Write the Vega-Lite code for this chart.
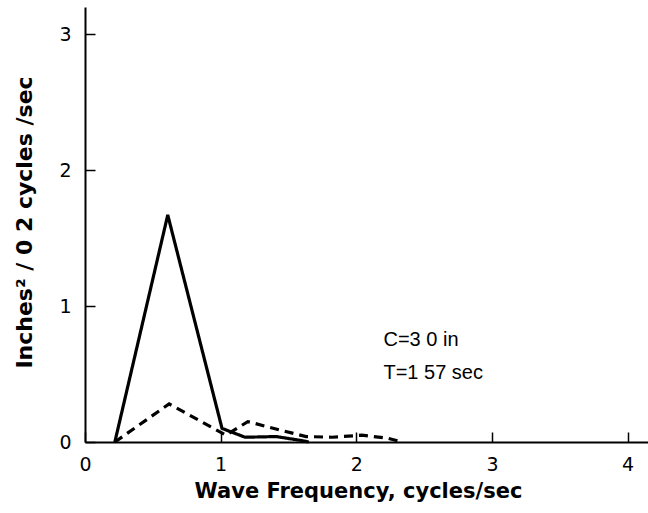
{
  "$schema": "https://vega.github.io/schema/vega-lite/v6.json",
  "width": 563,
  "height": 435,
  "autosize": "none",
  "padding": {"left": 85, "top": 7, "right": 0, "bottom": 71},
  "background": "white",
  "config": {"view": {"stroke": null}, "font": "Liberation Sans"},
  "datasets": {
    "curves": [
      {"f": 0.22, "s": 0.0, "series": "solid"},
      {"f": 0.61, "s": 1.67, "series": "solid"},
      {"f": 1.01, "s": 0.10, "series": "solid"},
      {"f": 1.18, "s": 0.035, "series": "solid"},
      {"f": 1.41, "s": 0.04, "series": "solid"},
      {"f": 1.6, "s": 0.01, "series": "solid"},
      {"f": 1.65, "s": 0.0, "series": "solid"},
      {"f": 0.22, "s": 0.0, "series": "dashed"},
      {"f": 0.62, "s": 0.28, "series": "dashed"},
      {"f": 1.04, "s": 0.05, "series": "dashed"},
      {"f": 1.2, "s": 0.15, "series": "dashed"},
      {"f": 1.43, "s": 0.09, "series": "dashed"},
      {"f": 1.63, "s": 0.04, "series": "dashed"},
      {"f": 1.82, "s": 0.035, "series": "dashed"},
      {"f": 2.04, "s": 0.05, "series": "dashed"},
      {"f": 2.22, "s": 0.03, "series": "dashed"},
      {"f": 2.34, "s": 0.0, "series": "dashed"}
    ],
    "notes": [
      {"f": 2.2, "s": 0.75, "label": "C=3 0 in"},
      {"f": 2.2, "s": 0.51, "label": "T=1 57 sec"}
    ]
  },
  "layer": [
    {
      "data": {"name": "curves"},
      "mark": {"type": "line", "color": "black", "strokeWidth": 3.2},
      "encoding": {
        "x": {
          "field": "f", "type": "quantitative",
          "scale": {"domain": [0, 4.15], "nice": false, "zero": false},
          "axis": {
            "title": "Wave  Frequency, cycles/sec",
            "values": [0, 1, 2, 3, 4],
            "format": "d",
            "grid": false,
            "domainColor": "black", "domainWidth": 2,
            "tickColor": "black", "tickWidth": 1.5, "tickSize": -10,
            "labelPadding": 23, "labelFontSize": 19, "labelColor": "black",
            "labelFont": "DejaVu Sans",
            "labelFlush": false,
            "titleFontSize": 21, "titleFontWeight": "bold", "titleColor": "black",
            "titleFont": "DejaVu Sans",
            "titlePadding": 6, "titleX": 273
          }
        },
        "y": {
          "field": "s", "type": "quantitative",
          "scale": {"domain": [0, 3.2], "nice": false},
          "axis": {
            "title": "Inches² / 0 2 cycles /sec",
            "values": [0, 1, 2, 3],
            "format": "d",
            "grid": false,
            "domainColor": "black", "domainWidth": 2,
            "tickColor": "black", "tickWidth": 1.5, "tickSize": -10,
            "labelPadding": 24, "labelFontSize": 19, "labelColor": "black",
            "labelFont": "DejaVu Sans",
            "labelFlush": false,
            "titleFontSize": 22, "titleFontWeight": "bold", "titleColor": "black",
            "titleFont": "DejaVu Sans",
            "titlePadding": 22, "titleY": 215
          }
        },
        "strokeDash": {
          "field": "series", "type": "nominal",
          "scale": {"domain": ["solid", "dashed"], "range": [[1, 0], [9, 6]]},
          "legend": null
        },
        "detail": {"field": "series"}
      }
    },
    {
      "data": {"name": "notes"},
      "mark": {"type": "text", "align": "left", "baseline": "middle", "fontSize": 20, "color": "black"},
      "encoding": {
        "x": {"field": "f", "type": "quantitative"},
        "y": {"field": "s", "type": "quantitative"},
        "text": {"field": "label"}
      }
    }
  ]
}
